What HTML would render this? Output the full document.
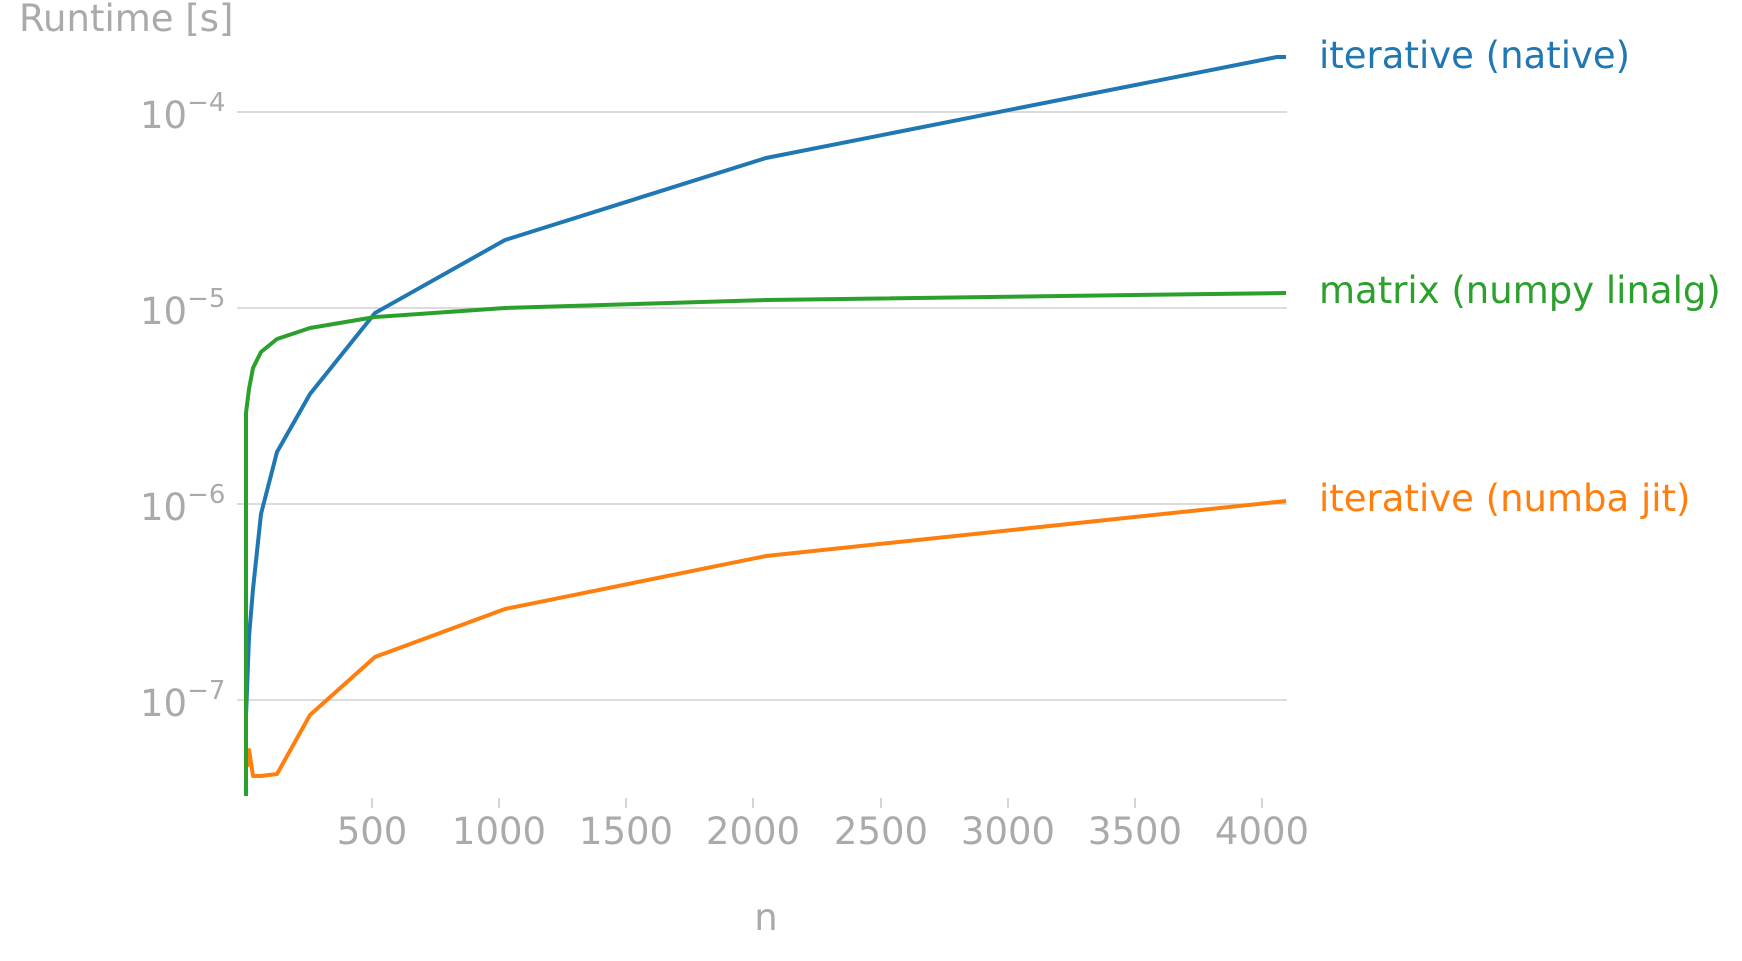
<!DOCTYPE html>
<html><head><meta charset="utf-8"><style>
html,body{margin:0;padding:0;background:#fff;}
svg text{font-family:"DejaVu Sans","Liberation Sans",sans-serif;}
</style></head><body>
<svg width="1742" height="956" viewBox="0 0 1742 956" xmlns="http://www.w3.org/2000/svg">
<g stroke="#c8c8c8" stroke-width="1.2">
<line x1="237" y1="112" x2="1287" y2="112"/>
<line x1="237" y1="308" x2="1287" y2="308"/>
<line x1="237" y1="504" x2="1287" y2="504"/>
<line x1="237" y1="700" x2="1287" y2="700"/>
</g>
<g stroke="#bbb" stroke-width="1.2">
<line x1="372" y1="798" x2="372" y2="808"/>
<line x1="499" y1="798" x2="499" y2="808"/>
<line x1="626" y1="798" x2="626" y2="808"/>
<line x1="753" y1="798" x2="753" y2="808"/>
<line x1="881" y1="798" x2="881" y2="808"/>
<line x1="1008" y1="798" x2="1008" y2="808"/>
<line x1="1135" y1="798" x2="1135" y2="808"/>
<line x1="1262" y1="798" x2="1262" y2="808"/>
</g>
<g fill="#aaa" font-size="37" text-anchor="middle">
<text x="372" y="844">500</text>
<text x="499" y="844">1000</text>
<text x="626" y="844">1500</text>
<text x="753" y="844">2000</text>
<text x="881" y="844">2500</text>
<text x="1008" y="844">3000</text>
<text x="1135" y="844">3500</text>
<text x="1262" y="844">4000</text>
<text x="766" y="930">n</text>
</g>
<g fill="#aaa" font-size="37">
<text x="19" y="31">Runtime [s]</text>
<text x="140" y="128">10<tspan font-size="26" dy="-17">−4</tspan></text>
<text x="140" y="324">10<tspan font-size="26" dy="-17">−5</tspan></text>
<text x="140" y="520">10<tspan font-size="26" dy="-17">−6</tspan></text>
<text x="140" y="716">10<tspan font-size="26" dy="-17">−7</tspan></text>
</g>
<g fill="none" stroke-width="4" stroke-linejoin="round">
<polyline stroke="#1f77b4" points="246,716 249,637 253,589 261,514 277,452 310,394 375,313 505,240 766,158 1277,57 1286,57"/>
<polyline stroke="#ff7f0e" points="247,767 249,750 253,776 261,776 277,774 310,715 375,657 505,609 766,556 1286,501"/>
<polyline stroke="#2ca02c" points="246,796 246,413 249,389 253,368 261,352 277,339 310,328 375,317 505,308 766,300 1286,293"/>
</g>
<g font-size="37">
<text x="1319" y="68" fill="#1f77b4">iterative (native)</text>
<text x="1319" y="303" fill="#2ca02c">matrix (numpy linalg)</text>
<text x="1319" y="511" fill="#ff7f0e">iterative (numba jit)</text>
</g>
</svg>
</body></html>
